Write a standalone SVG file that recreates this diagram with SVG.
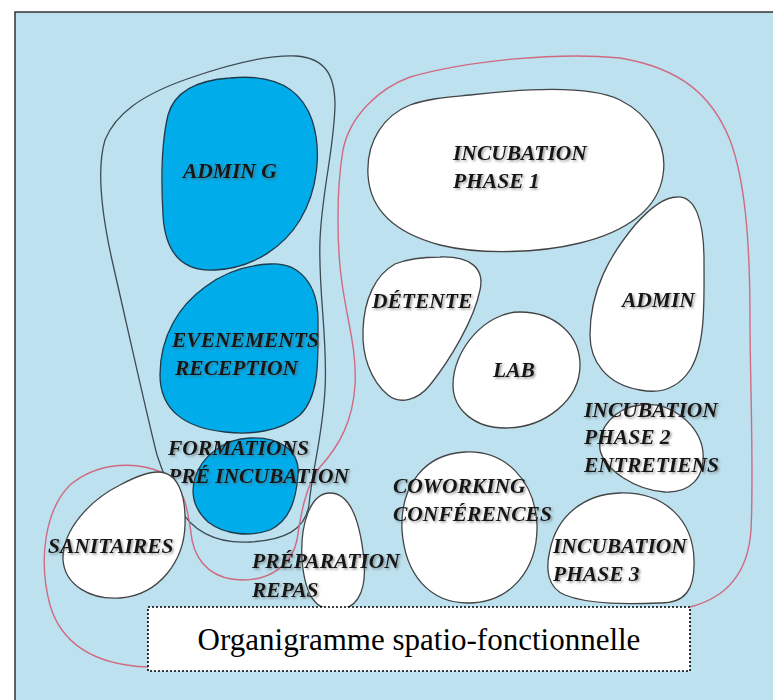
<svg xmlns="http://www.w3.org/2000/svg" width="773" height="700" viewBox="0 0 773 700">
<defs>
<filter id="sh" x="-10%" y="-30%" width="130%" height="170%">
<feDropShadow dx="1.5" dy="1.5" stdDeviation="0.8" flood-color="#555" flood-opacity="0.6"/>
</filter>
</defs>
<style>
.blue{fill:#00acea;stroke:#1f3a4a;stroke-width:1.3}
.white{fill:#ffffff;stroke:#444;stroke-width:1.3}
.gray{fill:none;stroke:#3e4a52;stroke-width:1.3}
.red{fill:none;stroke:#d06a80;stroke-width:1.4}
.lbl{font-family:"Liberation Serif","DejaVu Serif",serif;font-weight:bold;font-style:italic;font-size:21.5px;fill:#151515;filter:url(#sh)}
.cap{font-family:"Liberation Serif","Times New Roman",serif;font-size:31px;fill:#000}
</style>
<rect x="0" y="0" width="773" height="700" fill="#ffffff"/>
<rect x="15" y="12" width="800" height="800" fill="#bde1ef" stroke="#333" stroke-width="1.5"/>

<g id="zones">
<path class="gray" d="M 157,455 C 148,420 128,330 112,260 C 102,215 96,170 105,140 C 115,115 140,95 190,78 C 230,64 270,55 296,56 C 325,58 335,75 335,105 C 334,150 322,190 320,240 C 318,290 328,340 325,390 C 322,440 312,470 309,505 C 305,530 285,540 250,542 C 215,544 190,530 178,505 C 170,490 162,470 157,455 Z"/>
<path class="red" d="M 690,607 C 725,598 748,575 751,530 C 754,470 750,380 750,320 C 750,240 745,180 730,140 C 712,95 680,68 620,58 C 560,52 470,60 410,77 C 380,88 350,115 343,150 C 336,190 337,250 342,283 C 347,320 357,350 355,385 C 353,420 340,445 320,467 C 305,485 300,520 297,540 C 292,565 270,580 243,580 C 215,580 197,565 192,540 C 188,510 185,485 163,473 C 140,462 100,460 70,485 C 45,510 38,560 50,605 C 60,640 90,665 148,667"/>
</g>

<g id="admin-g">
<path class="blue" d="M 230,78 C 270,74 300,85 312,120 C 322,150 318,190 300,220 C 285,245 255,268 215,270 C 180,272 165,250 163,215 C 161,180 162,140 168,115 C 175,90 200,80 230,78 Z"/>
<text class="lbl" x="183" y="178">ADMIN G</text>
</g>
<g id="evenements">
<path class="blue" d="M 270,264 C 300,262 318,285 318,320 C 318,360 320,395 300,415 C 280,432 250,435 225,432 C 185,428 160,410 160,375 C 160,335 180,305 205,287 C 225,272 248,265 270,264 Z"/>
<text class="lbl" x="172" y="347">EVENEMENTS</text>
<text class="lbl" x="175" y="375">RECEPTION</text>
</g>
<g id="formations">
<path class="blue" d="M 250,438 C 280,437 300,450 298,475 C 296,500 290,520 270,530 C 250,537 225,535 208,522 C 195,510 190,495 195,478 C 202,455 225,439 250,438 Z"/>
<text class="lbl" x="168" y="455">FORMATIONS</text>
<text class="lbl" x="168" y="483">PRÉ INCUBATION</text>
</g>
<g id="sanitaires">
<path class="white" d="M 158,472 C 178,472 186,495 185,525 C 184,560 160,595 120,598 C 90,600 65,585 63,560 C 62,530 90,500 120,485 C 135,477 148,472 158,472 Z"/>
<text class="lbl" x="48" y="553">SANITAIRES</text>
</g>
<g id="preparation">
<path class="white" d="M 330,493 C 350,493 360,520 364,560 C 367,595 355,610 335,610 C 315,610 305,595 302,560 C 300,525 310,493 330,493 Z"/>
<text class="lbl" x="252" y="568">PRÉPARATION</text>
<text class="lbl" x="252" y="597">REPAS</text>
</g>
<g id="incubation-1">
<path class="white" d="M 470,95 C 530,88 590,85 620,100 C 650,115 668,145 663,175 C 658,210 625,232 580,243 C 540,253 480,255 440,245 C 395,233 370,210 368,175 C 366,140 385,115 410,105 C 430,98 450,97 470,95 Z"/>
<text class="lbl" x="453" y="160">INCUBATION</text>
<text class="lbl" x="453" y="188">PHASE 1</text>
</g>
<g id="detente">
<path class="white" d="M 440,257 C 470,256 485,268 480,290 C 474,320 450,360 430,385 C 418,400 400,405 388,395 C 370,380 362,355 363,330 C 364,300 375,275 395,264 C 410,258 425,257 440,257 Z"/>
<text class="lbl" x="372" y="308">DÉTENTE</text>
</g>
<g id="lab">
<path class="white" d="M 520,312 C 555,312 580,335 580,365 C 580,400 545,428 505,428 C 475,428 453,410 453,385 C 453,350 485,312 520,312 Z"/>
<text class="lbl" x="493" y="377">LAB</text>
</g>
<g id="admin">
<path class="white" d="M 677,197 C 695,196 704,220 704,260 C 704,300 706,345 690,370 C 678,388 660,394 640,390 C 605,384 590,360 590,335 C 590,290 610,255 635,225 C 650,208 665,197 677,197 Z"/>
<text class="lbl" x="622" y="307">ADMIN</text>
</g>
<g id="incubation-2">
<path class="white" d="M 640,405 C 670,400 700,425 703,452 C 705,478 690,493 665,492 C 635,490 605,470 600,450 C 597,428 615,408 640,405 Z"/>
<text class="lbl" x="584" y="417">INCUBATION</text>
<text class="lbl" x="584" y="444">PHASE 2</text>
<text class="lbl" x="584" y="472">ENTRETIENS</text>
</g>
<g id="coworking">
<path class="white" d="M 465,452 C 505,450 535,480 537,525 C 538,570 510,603 468,603 C 430,603 405,575 402,530 C 400,485 425,454 465,452 Z"/>
<text class="lbl" x="393" y="493">COWORKING</text>
<text class="lbl" x="393" y="521">CONFÉRENCES</text>
</g>
<g id="incubation-3">
<path class="white" d="M 620,493 C 665,492 693,520 694,560 C 695,590 685,603 660,603 C 630,604 590,605 565,595 C 548,588 545,570 550,550 C 557,515 585,494 620,493 Z"/>
<text class="lbl" x="553" y="553">INCUBATION</text>
<text class="lbl" x="553" y="581">PHASE 3</text>
</g>

<g id="caption">
<rect x="148" y="607" width="542" height="64" fill="#ffffff" stroke="#000" stroke-width="1.6" stroke-dasharray="2,2"/>
<text class="cap" x="419" y="650" text-anchor="middle">Organigramme spatio-fonctionnelle</text>
</g>
</svg>
